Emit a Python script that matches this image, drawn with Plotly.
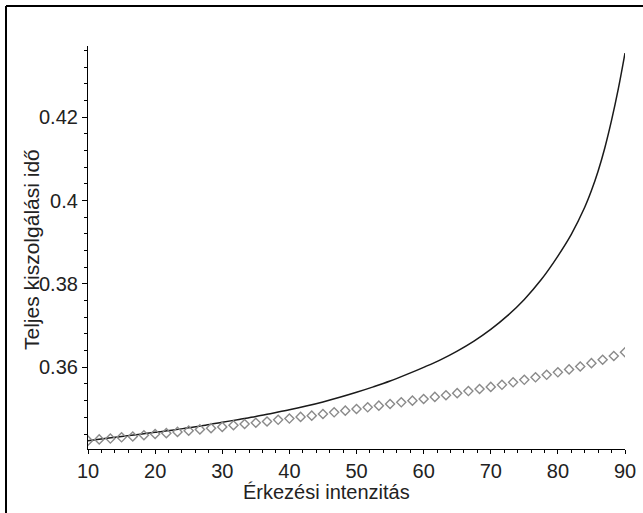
import plotly.graph_objects as go

# Solid curve
line_x = [10, 12.5, 15, 17.5, 20, 22.5, 25, 27.5, 30, 32.5, 35, 37.5, 40, 42.5, 45,
          47.5, 50, 52.5, 55, 57.5, 60, 62.5, 65, 67.5, 70, 72.5, 75, 77.5, 80, 82,
          84, 85, 86, 87, 88, 89, 90]
line_y = [0.3424, 0.3429, 0.3434, 0.3439, 0.3444, 0.3449, 0.3455, 0.3461, 0.3468,
          0.3475, 0.3482, 0.3490, 0.3498, 0.3507, 0.3517, 0.3528, 0.3540, 0.3553,
          0.3567, 0.3583, 0.3600, 0.3618, 0.3639, 0.3663, 0.3691, 0.3724, 0.3763,
          0.3810, 0.3867, 0.3919, 0.3984, 0.4024, 0.4071, 0.4127, 0.4193, 0.4268,
          0.4354]

# Diamond points
pts_x = [10, 11.67, 13.33, 15, 16.67, 18.33, 20, 21.67, 23.33, 25, 26.67, 28.33,
         30, 31.67, 33.33, 35, 36.67, 38.33, 40, 41.67, 43.33, 45, 46.67, 48.33,
         50, 51.67, 53.33, 55, 56.67, 58.33, 60, 61.67, 63.33, 65, 66.67, 68.33,
         70, 71.67, 73.33, 75, 76.67, 78.33, 80, 81.67, 83.33, 85, 86.67, 88.33, 90]
pts_y = [0.3424, 0.3427, 0.3429, 0.3432, 0.3434, 0.3437, 0.3440, 0.3442, 0.3445,
         0.3448, 0.3451, 0.3454, 0.3457, 0.3461, 0.3464, 0.3467, 0.3470, 0.3474,
         0.3477, 0.3481, 0.3484, 0.3488, 0.3492, 0.3496, 0.3500, 0.3504, 0.3508,
         0.3512, 0.3516, 0.3520, 0.3524, 0.3529, 0.3533, 0.3538, 0.3543, 0.3548,
         0.3553, 0.3558, 0.3564, 0.3570, 0.3576, 0.3582, 0.3588, 0.3595, 0.3602,
         0.3610, 0.3618, 0.3627, 0.3636]

x_ticks = [10, 20, 30, 40, 50, 60, 70, 80, 90]
y_ticks = [0.36, 0.38, 0.40, 0.42]
y_tick_labels = ["0.36", "0.38", "0.4", "0.42"]

x_title = "Érkezési intenzitás"
y_title = "Teljes kiszolgálási idő"

W, H = 643, 513
L, R, T, B = 88, 18, 46, 64
FONT = "Liberation Sans, Arial, sans-serif"

fig = go.Figure()
fig.add_trace(go.Scatter(
    x=line_x, y=line_y, mode="lines", line_shape="spline",
    line=dict(color="#1a1a1a", width=1.5), showlegend=False))
fig.add_trace(go.Scatter(
    x=pts_x, y=pts_y, mode="markers",
    marker=dict(symbol="diamond-open", size=7, color="#8a8a8a",
                line=dict(width=1.4, color="#8a8a8a")),
    showlegend=False))

pw = W - L - R
ph = H - T - B

def px_to_paper_x(px):
    return (px - L) / pw

def px_to_paper_y(py):
    return (H - B - py) / ph

fig.update_layout(
    width=W, height=H,
    margin=dict(l=L, r=R, t=T, b=B, autoexpand=False),
    paper_bgcolor="white", plot_bgcolor="white",
    font=dict(family=FONT, size=20, color="#222"),
    xaxis=dict(range=[10, 90], tickvals=x_ticks, showgrid=False, zeroline=False,
               automargin=False,
               showline=True, linecolor="black", linewidth=1.2,
               ticks="outside", ticklen=4, tickwidth=1.2, tickcolor="black",
               tickfont=dict(family=FONT, size=20, color="#222"),
               minor=dict(dtick=2, tick0=10, ticks="outside", ticklen=3,
                          tickcolor="black", tickwidth=1, showgrid=False)),
    yaxis=dict(range=[0.3404, 0.4371], tickvals=y_ticks, ticktext=y_tick_labels,
               showgrid=False, zeroline=False, automargin=False,
               showline=True, linecolor="black", linewidth=1.2,
               ticks="outside", ticklen=5, tickwidth=1.2, tickcolor="black",
               tickfont=dict(family=FONT, size=20, color="#222"),
               minor=dict(dtick=0.004, tick0=0.36, ticks="outside", ticklen=3,
                          tickcolor="black", tickwidth=1, showgrid=False)),
)

fig.add_annotation(text=x_title, xref="paper", yref="paper",
                   x=px_to_paper_x(326.5), y=px_to_paper_y(492),
                   showarrow=False, xanchor="center", yanchor="middle",
                   font=dict(family=FONT, size=20, color="#222"))
fig.add_annotation(text=y_title, xref="paper", yref="paper",
                   x=px_to_paper_x(31), y=px_to_paper_y(250),
                   showarrow=False, xanchor="center", yanchor="middle", textangle=-90,
                   font=dict(family=FONT, size=21, color="#222"))

# frame lines (top and left)
fig.add_shape(type="line", xref="paper", yref="paper",
              x0=px_to_paper_x(6), y0=px_to_paper_y(6),
              x1=px_to_paper_x(650), y1=px_to_paper_y(6),
              line=dict(color="black", width=2))
fig.add_shape(type="line", xref="paper", yref="paper",
              x0=px_to_paper_x(6), y0=px_to_paper_y(6),
              x1=px_to_paper_x(6), y1=px_to_paper_y(520),
              line=dict(color="black", width=2))

fig.write_html("out.html", config={"displayModeBar": False},
               post_script="document.body.style.margin='0';document.body.style.overflow='hidden';")
